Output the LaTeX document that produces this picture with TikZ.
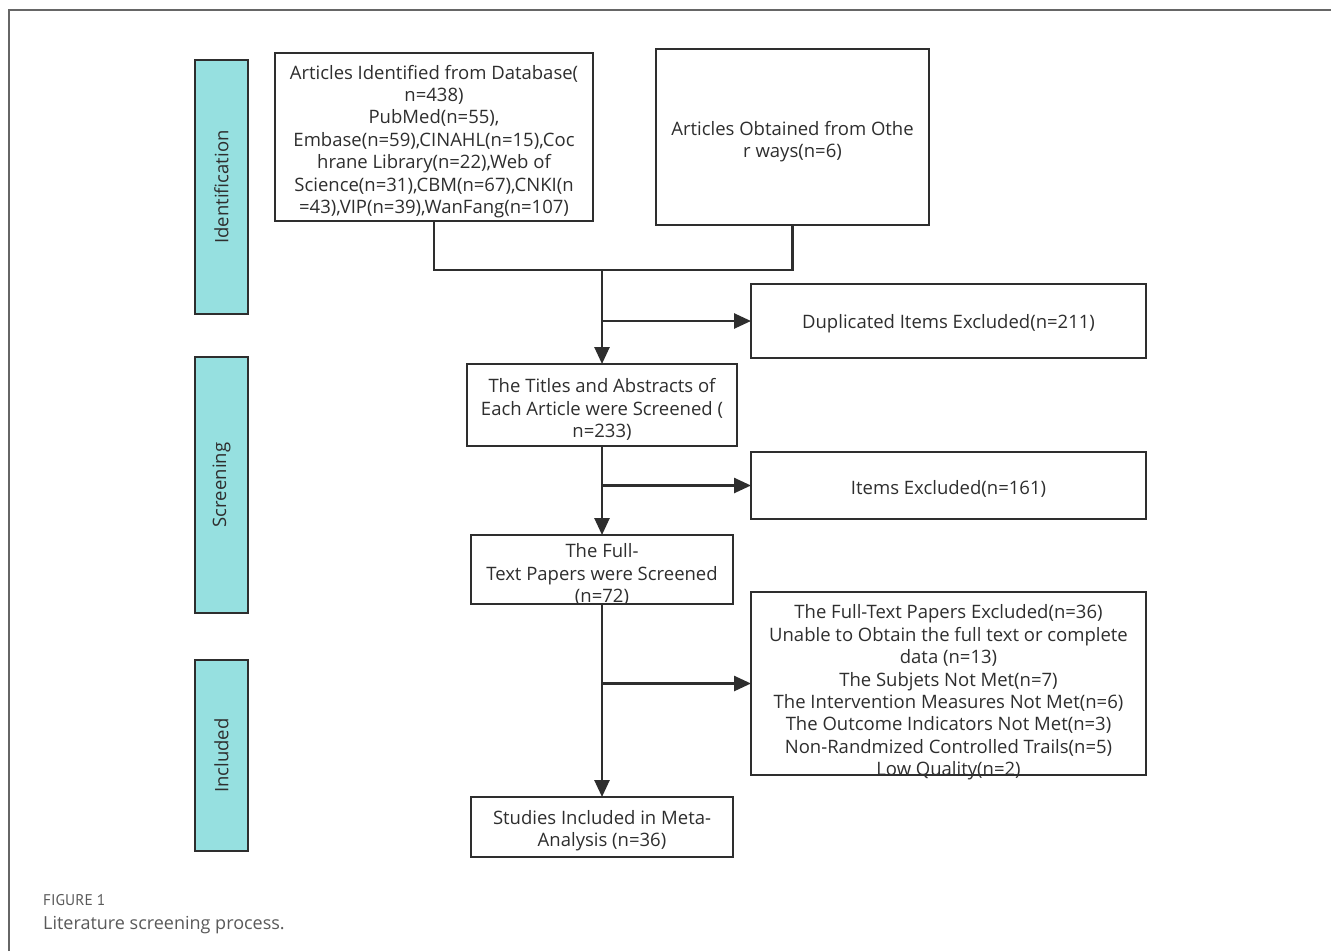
\documentclass[tikz,border=0pt]{standalone}
\usepackage{fontspec}
\setmainfont{Open Sans}
\newfontfamily\capfont{PT Sans}
\usetikzlibrary{arrows.meta}
\definecolor{ink}{HTML}{2E2E2E}
\definecolor{teal}{HTML}{96E0E0}
\definecolor{framec}{HTML}{666666}
\definecolor{capc}{HTML}{5A5A5A}
\tikzset{
  box/.style={draw=ink, line width=2.6pt, inner sep=0pt, outer sep=0pt, fill=white},
  side/.style={draw=ink, line width=2pt, fill=teal, inner sep=0pt, outer sep=0pt, minimum width=53pt},
  txt/.style={text=ink, align=center, font=\fontsize{18.5}{22.4}\selectfont, inner sep=0pt},
  conn/.style={draw=ink, line width=2.6pt},
  arr/.style={conn, -{Triangle[length=17pt,width=15pt]}},
}
\begin{document}
\begin{tikzpicture}[x=1pt,y=-1pt]
\useasboundingbox (0,0) rectangle (1331,951);
\fill[white] (0,0) rectangle (1331,951);
% frame
\draw[framec, line width=1.3pt] (9,951) -- (9,10) -- (1331,10);
% side bars
\node[side, minimum height=254pt] (sid) at (221.5,187) {};
\node[txt, rotate=90] (tid) at (sid.center) {Identification};
\node[side, minimum height=256pt] (sscr) at (221.5,485) {};
\node[txt, rotate=90] (tscr) at (sscr.center) {Screening};
\node[side, minimum height=191pt] (sinc) at (221.5,755.5) {};
\node[txt, rotate=90] (tinc) at (sinc.center) {Included};
% boxes
\node[box, minimum width=318pt, minimum height=168pt] (b1) at (434,137) {};
\node[txt] (t1) at (434,141.5) {Articles Identified from Database(\\n=438)\\PubMed(n=55),\\Embase(n=59),CINAHL(n=15),Coc\\hrane Library(n=22),Web of\\Science(n=31),CBM(n=67),CNKI(n\\=43),VIP(n=39),WanFang(n=107)};
\node[box, minimum width=273pt, minimum height=176pt] (b2) at (792.5,137) {};
\node[txt] (t2) at (792.5,141.5) {Articles Obtained from Othe\\r ways(n=6)};
\node[box, minimum width=270pt, minimum height=82pt] (b3) at (602,405) {};
\node[txt] (t3) at (602,409.5) {The Titles and Abstracts of\\Each Article were Screened (\\n=233)};
\node[box, minimum width=395pt, minimum height=74pt] (b4) at (948.5,321) {};
\node[txt] (t4) at (948.5,324) {Duplicated Items Excluded(n=211)};
\node[box, minimum width=395pt, minimum height=67pt] (b5) at (948.5,485.5) {};
\node[txt] (t5) at (948.5,489) {Items Excluded(n=161)};
\node[box, minimum width=262pt, minimum height=69pt] (b6) at (602,569.5) {};
\node[txt] (t6) at (602,574.5) {The Full-\\Text Papers were Screened\\(n=72)};
\node[box, minimum width=395pt, minimum height=183pt] (b7) at (948.5,683.5) {};
\node[txt] (t7) at (948.5,692.5) {The Full-Text Papers Excluded(n=36)\\Unable to Obtain the full text or complete\\data (n=13)\\The Subjets Not Met(n=7)\\The Intervention Measures Not Met(n=6)\\The Outcome Indicators Not Met(n=3)\\Non-Randmized Controlled Trails(n=5)\\Low Quality(n=2)};
\node[box, minimum width=262pt, minimum height=60pt] (b8) at (602,827) {};
\node[txt] (t8) at (602,830.5) {Studies Included in Meta-\\Analysis (n=36)};
% connectors
\coordinate (j1) at (602,270);
\coordinate (s1) at (602,321);
\coordinate (s2) at (602,485.5);
\coordinate (s3) at (602,683.5);
\draw[conn] (b1.south) |- (j1) -| (b2.south);
\draw[arr] (j1) -- (b3.north);
\draw[arr] (s1) -- (b4.west);
\draw[arr] (b3.south) -- (b6.north);
\draw[arr] (s2) -- (b5.west);
\draw[arr] (b6.south) -- (b8.north);
\draw[arr] (s3) -- (b7.west);
% caption
\node[anchor=base west, inner sep=0pt, text=capc, font=\capfont\fontsize{15.5}{18}\selectfont] (c1) at (43,905) {FIGURE 1};
\node[anchor=base west, inner sep=0pt, text=capc, font=\fontsize{18}{20}\selectfont] (c2) at (43,929) {Literature screening process.};
\end{tikzpicture}
\end{document}
